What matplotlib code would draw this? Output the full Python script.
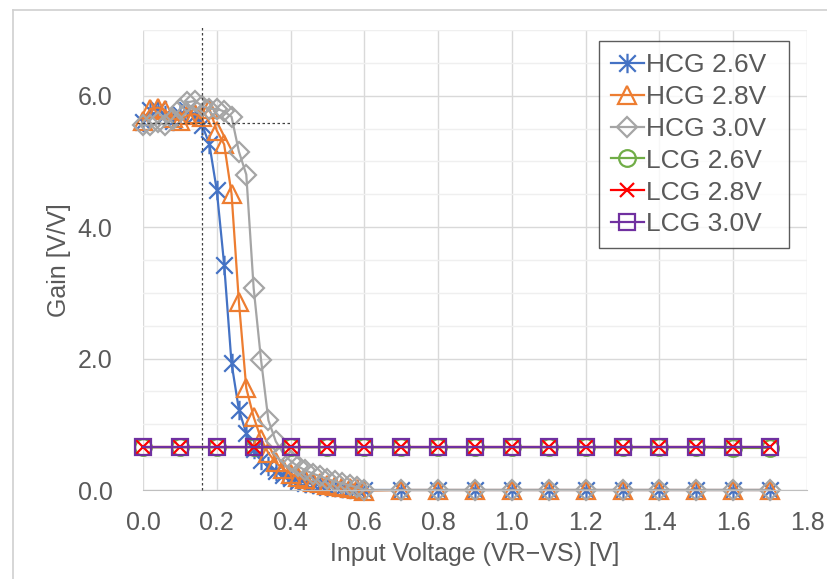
import matplotlib
matplotlib.use("Agg")
import matplotlib.pyplot as plt
from matplotlib.lines import Line2D
from matplotlib.path import Path

plt.rcParams["font.family"] = ["Liberation Sans", "DejaVu Sans"]

# fine sweep for the HCG curves, then coarse tail
x_hcg = [0.00, 0.02, 0.04, 0.06, 0.08, 0.10, 0.12, 0.14, 0.16, 0.18,
         0.20, 0.22, 0.24, 0.26, 0.28, 0.30, 0.32, 0.34, 0.36, 0.38,
         0.40, 0.42, 0.44, 0.46, 0.48, 0.50, 0.52, 0.54, 0.56, 0.58,
         0.60, 0.70, 0.80, 0.90, 1.00, 1.10, 1.20, 1.30, 1.40, 1.50,
         1.60, 1.70]
hcg_26 = [5.60, 5.78, 5.80, 5.70, 5.62, 5.72, 5.78, 5.70, 5.56, 5.26,
          4.56, 3.43, 1.93, 1.22, 0.86, 0.62, 0.46, 0.36, 0.29, 0.23,
          0.18, 0.14, 0.11, 0.09, 0.07, 0.05, 0.04, 0.03, 0.02, 0.01,
          0.00, 0.00, 0.00, 0.00, 0.00, 0.00, 0.00, 0.00, 0.00, 0.00,
          0.00, 0.00]
hcg_28 = [5.62, 5.80, 5.82, 5.78, 5.66, 5.62, 5.70, 5.72, 5.68, 5.80,
          5.47, 5.26, 4.51, 2.86, 1.55, 1.11, 0.78, 0.56, 0.42, 0.32,
          0.25, 0.20, 0.16, 0.12, 0.10, 0.08, 0.06, 0.04, 0.03, 0.01,
          -0.01, 0.00, 0.00, 0.00, 0.00, 0.00, 0.00, 0.00, 0.00, 0.00,
          0.00, 0.00]
hcg_30 = [5.55, 5.55, 5.60, 5.55, 5.65, 5.80, 5.90, 5.92, 5.85, 5.80,
          5.80, 5.76, 5.68, 5.15, 4.80, 3.07, 1.98, 1.06, 0.74, 0.56,
          0.44, 0.36, 0.30, 0.25, 0.21, 0.17, 0.13, 0.10, 0.07, 0.04,
          0.00, 0.00, 0.00, 0.00, 0.00, 0.00, 0.00, 0.00, 0.00, 0.00,
          0.00, 0.00]

x_lcg = [0.0, 0.1, 0.2, 0.3, 0.4, 0.5, 0.6, 0.7, 0.8, 0.9,
         1.0, 1.1, 1.2, 1.3, 1.4, 1.5, 1.6, 1.7]
lcg_26 = [0.65, 0.65, 0.65, 0.65, 0.65, 0.65, 0.65, 0.65, 0.65, 0.65,
          0.65, 0.65, 0.65, 0.65, 0.65, 0.65, 0.64, 0.64]
lcg_28 = [0.66, 0.66, 0.66, 0.66, 0.66, 0.66, 0.66, 0.66, 0.66, 0.66,
          0.66, 0.66, 0.66, 0.66, 0.66, 0.66, 0.66, 0.66]
lcg_30 = [0.66, 0.66, 0.66, 0.66, 0.66, 0.66, 0.66, 0.66, 0.66, 0.66,
          0.66, 0.66, 0.66, 0.66, 0.66, 0.66, 0.66, 0.66]

x_ticks = [0.0, 0.2, 0.4, 0.6, 0.8, 1.0, 1.2, 1.4, 1.6, 1.8]
y_ticks = [0.0, 2.0, 4.0, 6.0]
y_minor = [0.5, 1.0, 1.5, 2.5, 3.0, 3.5, 4.5, 5.0, 5.5, 6.5, 7.0]

# marker guide lines (operating point)
vguide_x = 0.16
hguide_y = 5.59
hguide_xmax = 0.4

TXT = "#595959"

# Excel-style star: X with a vertical bar
star = Path([(0, -1), (0, 1), (-0.85, -0.85), (0.85, 0.85),
             (-0.85, 0.85), (0.85, -0.85)],
            [Path.MOVETO, Path.LINETO, Path.MOVETO, Path.LINETO,
             Path.MOVETO, Path.LINETO])

fig = plt.figure(figsize=(8.28, 5.79), dpi=100)
ax = fig.add_axes([143 / 828, 1 - 490 / 579, 664 / 828, 460 / 579])

series = [
    (x_hcg, hcg_26, "HCG 2.6V", "#4472C4", star, 14),
    (x_hcg, hcg_28, "HCG 2.8V", "#ED7D31", "^", 13),
    (x_hcg, hcg_30, "HCG 3.0V", "#A5A5A5", "D", 10),
    (x_lcg, lcg_26, "LCG 2.6V", "#70AD47", "o", 12),
    (x_lcg, lcg_28, "LCG 2.8V", "#FF0000", "x", 10.5),
    (x_lcg, lcg_30, "LCG 3.0V", "#7030A0", "s", 12),
]
for xs, ys, lab, col, mk, ms in series:
    ax.plot(xs, ys, color=col, lw=1.6, marker=mk, ms=ms, mew=1.6,
            mfc="none", mec=col, label=lab, clip_on=False)

ax.plot([vguide_x, vguide_x], [0, 7.05], color="#404040", lw=0.9,
        ls=(0, (2, 2)), clip_on=False, zorder=5)
ax.plot([-0.015, hguide_xmax], [hguide_y, hguide_y], color="#404040", lw=0.9,
        ls=(0, (2, 2)), clip_on=False, zorder=5)

ax.set_xlim(0, 1.8)
ax.set_ylim(0, 7.0)
ax.set_xticks(x_ticks)
ax.set_xticklabels([f"{v:.1f}" for v in x_ticks])
ax.set_yticks(y_ticks)
ax.set_yticklabels([f"{v:.1f}" for v in y_ticks])
ax.set_yticks(y_minor, minor=True)
ax.tick_params(axis="both", which="both", length=0, labelsize=18,
               colors=TXT)
ax.tick_params(axis="x", pad=15)
ax.tick_params(axis="y", pad=22)
ax.grid(True, which="major", color="#D9D9D9", lw=1.0, zorder=0)
ax.grid(True, which="minor", axis="y", color="#EFEFEF", lw=1.0, zorder=0)
ax.set_axisbelow(True)
for s in ["top", "right", "left"]:
    ax.spines[s].set_visible(False)
ax.spines["bottom"].set_color("#BFBFBF")

ax.set_xlabel("Input Voltage (VR\u2212VS) [V]", fontsize=18, color=TXT,
              labelpad=5)
ax.set_ylabel("Gain [V/V]", fontsize=18, color=TXT, labelpad=5)

leg = ax.legend(loc="upper left", bbox_to_anchor=(0.6867, 0.0, 0.2861, 0.976),
                mode="expand", fontsize=19, frameon=True, fancybox=False,
                handlelength=1.25, handletextpad=0.1, labelspacing=0.3,
                borderpad=0.45, borderaxespad=0)
leg.get_frame().set_edgecolor("#333333")
leg.get_frame().set_linewidth(1.0)
for t in leg.get_texts():
    t.set_color(TXT)

# outer chart border (mostly cropped in the original)
fig.add_artist(Line2D([13 / 828, 13 / 828], [0, 1 - 10 / 579],
                      color="#D0D0D0", lw=1.2))
fig.add_artist(Line2D([13 / 828, 1], [1 - 10 / 579, 1 - 10 / 579],
                      color="#D0D0D0", lw=1.2))

fig.savefig("out.png", dpi=100)
